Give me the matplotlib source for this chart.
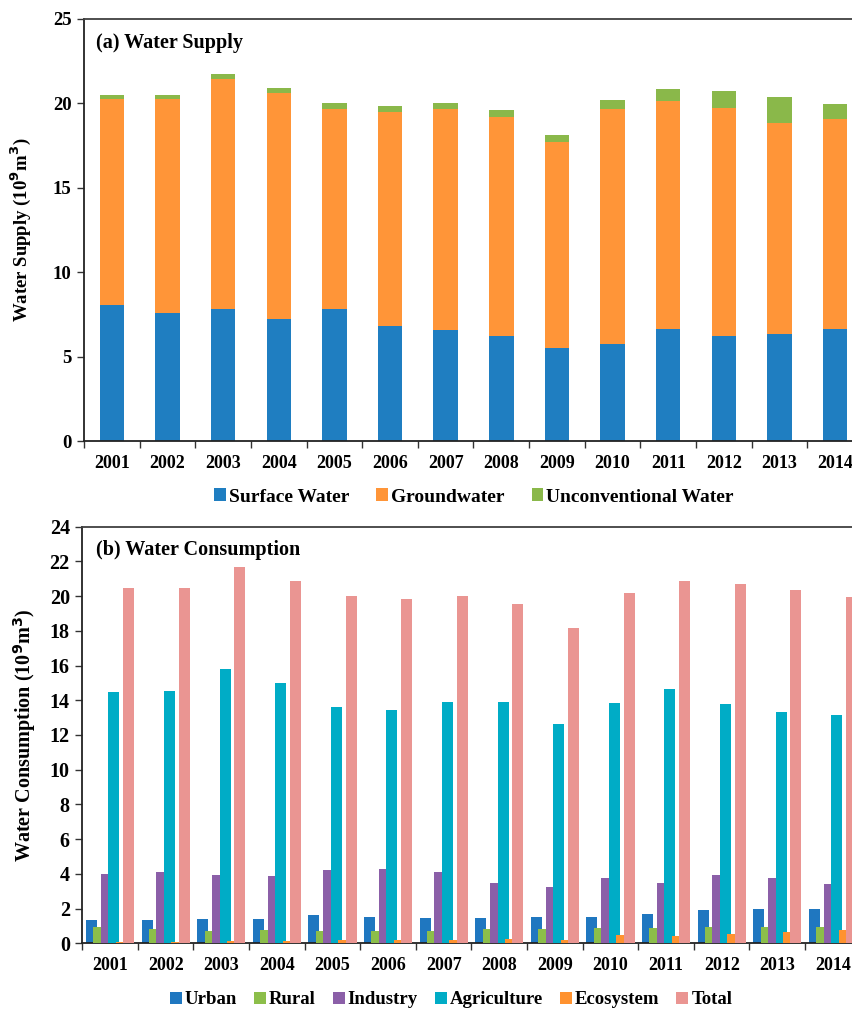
import matplotlib
matplotlib.use("Agg")
import matplotlib.pyplot as plt
import numpy as np
from matplotlib.patches import Patch

plt.rcParams['font.family'] = ['Liberation Serif', 'DejaVu Serif']
plt.rcParams['font.weight'] = 'bold'

years = ['2001', '2002', '2003', '2004', '2005', '2006', '2007',
         '2008', '2009', '2010', '2011', '2012', '2013', '2014']

# (a) Water supply (10^9 m^3)
surface_water = [8.07, 7.62, 7.82, 7.24, 7.84, 6.85, 6.59, 6.24, 5.55, 5.74, 6.63, 6.24, 6.36, 6.63]
groundwater = [12.21, 12.66, 13.64, 13.39, 11.81, 12.66, 13.06, 12.95, 12.16, 13.91, 13.49, 13.52, 12.46, 12.44]
unconventional = [0.20, 0.20, 0.26, 0.26, 0.35, 0.34, 0.35, 0.40, 0.44, 0.57, 0.73, 0.99, 1.54, 0.89]

# (b) Water consumption (10^9 m^3)
urban = [1.32, 1.32, 1.42, 1.42, 1.61, 1.53, 1.45, 1.47, 1.52, 1.53, 1.69, 1.90, 1.99, 1.99]
rural = [0.92, 0.80, 0.73, 0.79, 0.71, 0.71, 0.71, 0.80, 0.82, 0.88, 0.86, 0.92, 0.96, 0.92]
industry = [3.99, 4.09, 3.93, 3.88, 4.20, 4.30, 4.09, 3.46, 3.26, 3.78, 3.47, 3.93, 3.74, 3.43]
agriculture = [14.46, 14.52, 15.82, 14.98, 13.61, 13.44, 13.88, 13.92, 12.63, 13.86, 14.65, 13.77, 13.30, 13.13]
ecosystem = [0.10, 0.10, 0.12, 0.12, 0.17, 0.17, 0.19, 0.24, 0.19, 0.46, 0.42, 0.55, 0.65, 0.75]
total = [20.48, 20.48, 21.70, 20.87, 20.00, 19.83, 20.00, 19.56, 18.14, 20.20, 20.85, 20.70, 20.33, 19.93]

supply_names = ['Surface Water', 'Groundwater', 'Unconventional Water']
cons_names = ['Urban', 'Rural', 'Industry', 'Agriculture', 'Ecosystem', 'Total']

c_supply = ['#1F7EC1', '#FF9538', '#8AB84A']
c_cons = ['#1F77C0', '#8CBE4A', '#8B5FA8', '#00ACC6', '#FF922F', '#EA9592']

fig = plt.figure(figsize=(8.52, 10.10), dpi=100)

x = np.arange(len(years))

def style_axes(ax, ymax, ystep, yfs):
    ax.set_xlim(-0.5, len(years) - 0.5)
    ax.set_ylim(0, ymax)
    ax.set_yticks(np.arange(0, ymax + 0.01, ystep))
    ax.set_xticks(np.arange(-0.5, len(years) - 0.5 + 0.01, 1.0))
    ax.set_xticklabels([])
    ax.set_xticks(x, minor=True)
    ax.set_xticklabels(years, minor=True, fontsize=13, fontweight='bold')
    ax.tick_params(axis='x', which='minor', length=0, pad=10)
    ax.tick_params(axis='x', which='major', length=5, width=1, direction='out', color='#333333')
    ax.tick_params(axis='y', length=5, width=1, direction='out', labelsize=yfs, color='#333333', pad=4)
    for lab in ax.get_yticklabels():
        lab.set_fontweight('bold')
    for s in ax.spines.values():
        s.set_color('#404040')
        s.set_linewidth(1.3)
    ax.spines['left'].set_color('#222222')
    ax.spines['bottom'].set_color('#222222')

# ---- (a) Water supply ----
ax1 = fig.add_axes([84/852, 1 - 441.3/1010, 779/852, (441.3 - 19)/1010])
bottom = np.zeros(len(years))
for vals, col, name in zip([surface_water, groundwater, unconventional], c_supply, supply_names):
    ax1.bar(x, vals, width=0.44, bottom=bottom, color=col, label=name, zorder=2)
    bottom = bottom + np.array(vals)
style_axes(ax1, 25, 5, 13.5)
ax1.set_ylabel('Water Supply (10$^{\\mathbf{9}}$m$^{\\mathbf{3}}$)', fontsize=13.5, fontweight='bold', labelpad=14)
ax1.text(0.015, 0.944, '(a) Water Supply', transform=ax1.transAxes, fontsize=14.5,
         fontweight='bold', va='center', ha='left')
h1 = [Patch(facecolor=c, edgecolor='none') for c in c_supply]
fig.legend(h1, supply_names, loc='center', bbox_to_anchor=(474/852, 1 - 497/1010), ncol=3,
           frameon=False, handlelength=0.6, handleheight=0.6,
           handletextpad=0.15, columnspacing=1.4, prop={'weight': 'bold', 'size': 14})

# ---- (b) Water consumption ----
ax2 = fig.add_axes([82.3/852, 1 - 943.3/1010, 778.4/852, (943.3 - 526.7)/1010])
step = 0.134
width = 0.198
for i, (vals, col, name) in enumerate(zip([urban, rural, industry, agriculture, ecosystem, total], c_cons, cons_names)):
    ax2.bar(x + (i - 2.5) * step, vals, width=width, color=col, label=name, zorder=2 + i)
style_axes(ax2, 24, 2, 14.5)
ax2.set_ylabel('Water Consumption (10$^{\\mathbf{9}}$m$^{\\mathbf{3}}$)', fontsize=14.5, fontweight='bold', labelpad=8)
ax2.text(0.017, 0.944, '(b) Water Consumption', transform=ax2.transAxes, fontsize=14.5,
         fontweight='bold', va='center', ha='left')
h2 = [Patch(facecolor=c, edgecolor='none') for c in c_cons]
fig.legend(h2, cons_names, loc='center', bbox_to_anchor=(451/852, 1 - 1000/1010), ncol=6,
           frameon=False, handlelength=0.65, handleheight=0.65,
           handletextpad=0.15, columnspacing=0.9, prop={'weight': 'bold', 'size': 13.5})

fig.savefig('out.png', dpi=100)
